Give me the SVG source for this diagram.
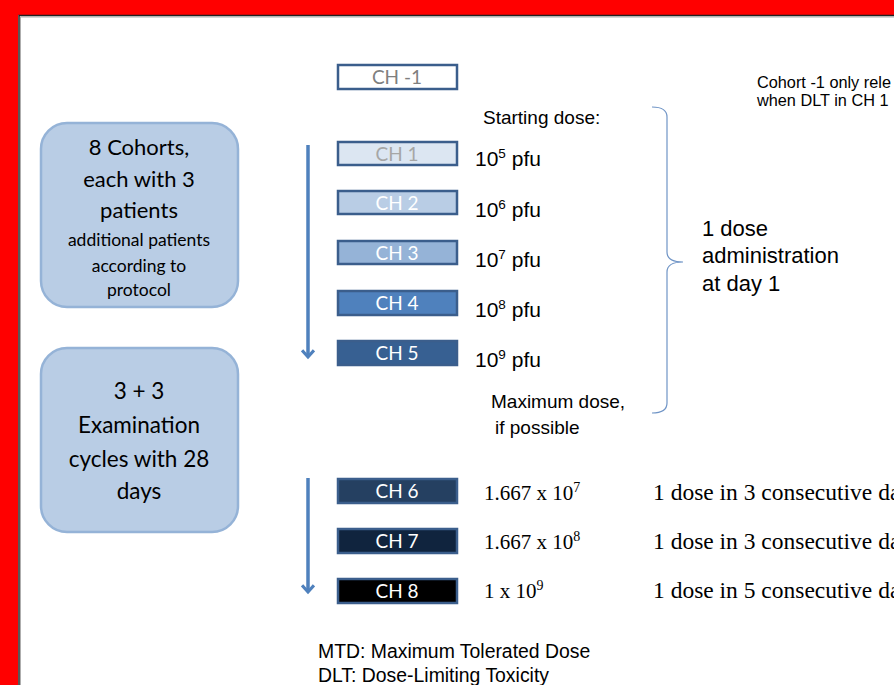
<svg xmlns="http://www.w3.org/2000/svg" width="894" height="685" viewBox="0 0 894 685">
<defs>
<style>
.side{fill:#b9cde5;stroke:#95b3d7;stroke-width:2.5}
.st{font-family:Lato,"Open Sans",sans-serif;fill:#000;text-anchor:middle}
.ch{stroke:#3b5e8c;stroke-width:2.5}
.cht{font-family:Lato,"Open Sans",sans-serif;font-size:19px;text-anchor:middle;fill:#fff}
.ar{font-family:"Liberation Sans",Arial,sans-serif;fill:#000}
.sr{font-family:"Liberation Serif","Times New Roman",serif;fill:#000}
.arrow{stroke:#4f81bd;stroke-width:3.5;fill:none}
</style>
<marker id="ah" markerWidth="4" markerHeight="4" refX="2.2" refY="2" orient="auto" markerUnits="strokeWidth">
<path d="M0.3,0.3 L2.2,2 L0.3,3.7" fill="none" stroke="#4f81bd" stroke-width="0.9"/>
</marker>
</defs>
<rect width="894" height="685" fill="#fff"/>
<rect x="0" y="0" width="894" height="15" fill="#f00"/>
<rect x="0" y="0" width="18" height="685" fill="#f00"/>
<path d="M19,685 V15.5 H894" fill="none" stroke="#222" stroke-width="1.5"/>
<path d="M20.5,685 V17 H894" fill="none" stroke="#999" stroke-width="0.8"/>

<g id="cohorts">
<rect class="side" x="41" y="123" width="197" height="184" rx="26"/>
<text class="st" x="139" y="155" font-size="22">8 Cohorts,</text>
<text class="st" x="139" y="187" font-size="22">each with 3</text>
<text class="st" x="139" y="218" font-size="22">patients</text>
<text class="st" x="139" y="246" font-size="17.5">additional patients</text>
<text class="st" x="139" y="272" font-size="17.5">according to</text>
<text class="st" x="139" y="296" font-size="17.5">protocol</text>
</g>
<g id="cycles">
<rect class="side" x="41" y="348" width="197" height="184" rx="26"/>
<text class="st" x="139" y="399" font-size="22.5">3 + 3</text>
<text class="st" x="139" y="433" font-size="22.5">Examination</text>
<text class="st" x="139" y="467" font-size="22.5">cycles with 28</text>
<text class="st" x="139" y="499" font-size="22.5">days</text>
</g>

<g id="connectors">
<line class="arrow" x1="308" y1="145" x2="308" y2="357" marker-end="url(#ah)"/>
<line class="arrow" x1="308" y1="478" x2="308" y2="592" marker-end="url(#ah)"/>
<path d="M652,107 Q667,107 667,117 V252 Q667,262 683,262 Q667,262 667,272 V403 Q667,413 652,413" fill="none" stroke="#6f94c6" stroke-width="1.2"/>
</g>

<g id="ch-1"><rect class="ch" x="338" y="65" width="119" height="24" fill="#fff"/><text class="cht" x="397" y="84" style="fill:#7f7f7f">CH -1</text></g>
<g id="ch1"><rect class="ch" x="338" y="142" width="119" height="23" fill="#dce6f2"/><text class="cht" x="397" y="161" style="fill:#a6a6a6">CH 1</text></g>
<g id="ch2"><rect class="ch" x="338" y="191" width="119" height="23" fill="#b9cde5"/><text class="cht" x="397" y="210">CH 2</text></g>
<g id="ch3"><rect class="ch" x="338" y="241" width="119" height="23" fill="#95b3d7"/><text class="cht" x="397" y="260">CH 3</text></g>
<g id="ch4"><rect class="ch" x="338" y="291" width="119" height="24" fill="#4f81bd"/><text class="cht" x="397" y="310">CH 4</text></g>
<g id="ch5"><rect class="ch" x="338" y="341" width="119" height="24" fill="#376092"/><text class="cht" x="397" y="360">CH 5</text></g>
<g id="ch6"><rect class="ch" x="338" y="479" width="119" height="24" fill="#254061"/><text class="cht" x="397" y="498">CH 6</text></g>
<g id="ch7"><rect class="ch" x="338" y="529" width="119" height="24" fill="#10243e"/><text class="cht" x="397" y="548">CH 7</text></g>
<g id="ch8"><rect class="ch" x="338" y="579" width="119" height="24" fill="#000"/><text class="cht" x="397" y="598">CH 8</text></g>

<g id="labels">
<text class="ar" x="483" y="124" font-size="19">Starting dose:</text>
<text class="ar" x="475" y="166" font-size="21">10<tspan font-size="13.5" dy="-8">5</tspan><tspan dy="8"> pfu</tspan></text>
<text class="ar" x="475" y="217" font-size="21">10<tspan font-size="13.5" dy="-8">6</tspan><tspan dy="8"> pfu</tspan></text>
<text class="ar" x="475" y="267" font-size="21">10<tspan font-size="13.5" dy="-8">7</tspan><tspan dy="8"> pfu</tspan></text>
<text class="ar" x="475" y="317" font-size="21">10<tspan font-size="13.5" dy="-8">8</tspan><tspan dy="8"> pfu</tspan></text>
<text class="ar" x="475" y="367" font-size="21">10<tspan font-size="13.5" dy="-8">9</tspan><tspan dy="8"> pfu</tspan></text>
<text class="ar" x="491" y="408" font-size="19">Maximum dose,</text>
<text class="ar" x="495" y="434" font-size="19">if possible</text>
<text class="ar" x="702" y="236" font-size="22">1 dose</text>
<text class="ar" x="702" y="263" font-size="22">administration</text>
<text class="ar" x="702" y="291" font-size="22">at day 1</text>
<text class="ar" x="757" y="88" font-size="16.3">Cohort -1 only rele</text>
<text class="ar" x="757" y="106" font-size="16.3">when DLT in CH 1</text>
<text class="sr" x="484" y="500" font-size="21">1.667 x 10<tspan font-size="14" dy="-8">7</tspan></text>
<text class="sr" x="484" y="549" font-size="21">1.667 x 10<tspan font-size="14" dy="-8">8</tspan></text>
<text class="sr" x="484" y="598" font-size="21">1 x 10<tspan font-size="14" dy="-8">9</tspan></text>
<text class="sr" x="653" y="500" font-size="23.5">1 dose in 3 consecutive da</text>
<text class="sr" x="653" y="549" font-size="23.5">1 dose in 3 consecutive da</text>
<text class="sr" x="653" y="598" font-size="23.5">1 dose in 5 consecutive da</text>
<text class="ar" x="318" y="658" font-size="19.4">MTD: Maximum Tolerated Dose</text>
<text class="ar" x="318" y="682" font-size="19.4">DLT: Dose-Limiting Toxicity</text>
</g>
</svg>
